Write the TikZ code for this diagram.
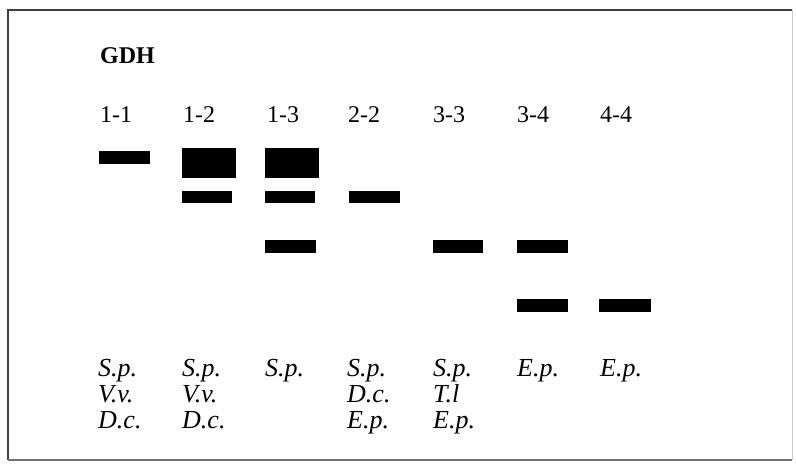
\documentclass[tikz,border=0pt]{standalone}
\usepackage{fontspec}
\setmainfont{Liberation Serif}
\begin{document}
\begin{tikzpicture}[x=1pt,y=-1pt,
  lbl/.style={inner sep=0pt, anchor=base west, font=\fontsize{24}{26}\selectfont},
  spec/.style={inner sep=0pt, anchor=base west, font=\fontsize{26}{26}\selectfont\itshape},
  band/.style={fill=black}]
\useasboundingbox (0,0) rectangle (796,469);
% frame
\draw[line width=1.6pt, black!75] (8,460) -- (8,10) -- (792,10);
\draw[line width=1.2pt, black!55] (8,460) -- (792,460);
\draw[line width=0.8pt, black!20] (792,10) -- (792,460);
% title
\node[lbl, font=\fontsize{24}{26}\selectfont\bfseries] (gdh) at (100,63) {GDH};
% lane labels
\node[lbl] (l11) at (100,122) {1-1};
\node[lbl] (l12) at (183,122) {1-2};
\node[lbl] (l13) at (267,122) {1-3};
\node[lbl] (l22) at (348,122) {2-2};
\node[lbl] (l33) at (433,122) {3-3};
\node[lbl] (l34) at (517,122) {3-4};
\node[lbl] (l44) at (600,122) {4-4};
% bands
\fill[band] (99,151) rectangle (150,164);
\fill[band] (182,148) rectangle (236,178);
\fill[band] (182,191) rectangle (232,203);
\fill[band] (265,148) rectangle (319,178);
\fill[band] (265,191) rectangle (315,203);
\fill[band] (349,191) rectangle (400,203);
\fill[band] (265,240) rectangle (316,253);
\fill[band] (433,240) rectangle (483,253);
\fill[band] (517,240) rectangle (568,253);
\fill[band] (517,299) rectangle (568,312);
\fill[band] (599,299) rectangle (651,312);
% species labels
\node[spec] (a1) at (98,376) {S.p.};
\node[spec] (a2) at (98,402) {V.v.};
\node[spec] (a3) at (98,428) {D.c.};
\node[spec] (b1) at (182,376) {S.p.};
\node[spec] (b2) at (182,402) {V.v.};
\node[spec] (b3) at (182,428) {D.c.};
\node[spec] (c1) at (265,376) {S.p.};
\node[spec] (d1) at (347,376) {S.p.};
\node[spec] (d2) at (347,402) {D.c.};
\node[spec] (d3) at (347,428) {E.p.};
\node[spec] (e1) at (433,376) {S.p.};
\node[spec] (e2) at (433,402) {T.l};
\node[spec] (e3) at (433,428) {E.p.};
\node[spec] (f1) at (517,376) {E.p.};
\node[spec] (g1) at (600,376) {E.p.};
\end{tikzpicture}
\end{document}
